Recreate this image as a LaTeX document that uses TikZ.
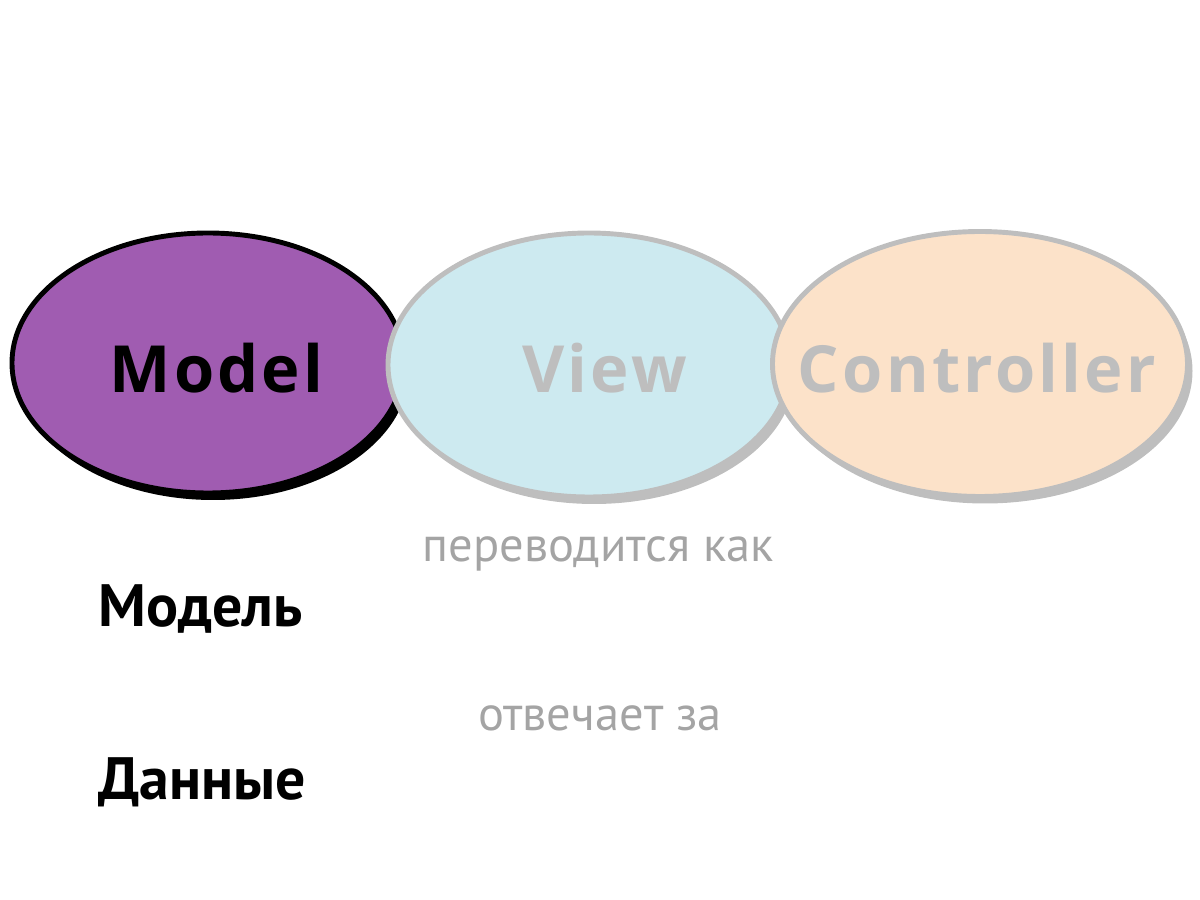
\documentclass[tikz,border=0pt]{standalone}
\usepackage{fontspec}
\setmainfont{PT Sans}
\newfontfamily\labelfont[LetterSpace=5]{Open Sans}
\usetikzlibrary{shapes.geometric,shadows}

\definecolor{mpurple}{HTML}{A05CB1}
\definecolor{vblue}{HTML}{CDEAF0}
\definecolor{cpeach}{HTML}{FCE2C9}
\definecolor{rimgray}{HTML}{BEBEBE}
\definecolor{notegray}{HTML}{A4A4A4}

\begin{document}
\begin{tikzpicture}[
  part/.style={ellipse,draw,line width=1.4pt,inner sep=0pt},
  rim/.style={drop shadow={shadow xshift=.05cm,shadow yshift=-.07cm,opacity=1,fill=#1}},
  partname/.style={anchor=base,inner sep=0pt,font=\labelfont\bfseries\fontsize{18.5}{22}\selectfont},
  note/.style={text=notegray,inner sep=0pt,font=\fontsize{13.8}{16}\selectfont,anchor=base},
  term/.style={inner sep=0pt,font=\bfseries\fontsize{17}{20}\selectfont,anchor=base west}]
\useasboundingbox (0,0) rectangle (12,9);
\node[part,rim=black,fill=mpurple,minimum width=3.92cm,minimum height=2.6cm] (model) at (2.08,5.37) {};
\node[partname] (modeltxt) at (2.165,5.07) {Model};
\node[part,rim=rimgray,draw=rimgray,fill=vblue,minimum width=4.02cm,minimum height=2.64cm] (view) at (5.89,5.35) {};
\node[partname,text=rimgray] (viewtxt) at (6.045,5.07) {View};
\node[part,rim=rimgray,draw=rimgray,fill=cpeach,minimum width=4.15cm,minimum height=2.65cm] (ctrl) at (9.80,5.36) {};
\node[partname,text=rimgray] (ctrltxt) at (9.77,5.07) {Controller};
\node[note] (transl) at (5.98,3.38) {переводится как};
\node[term] (modelru) at (0.98,2.73) {Модель};
\node[note] (duty) at (6.00,1.69) {отвечает за};
\node[term] (data) at (0.98,1.00) {Данные};
\end{tikzpicture}
\end{document}
